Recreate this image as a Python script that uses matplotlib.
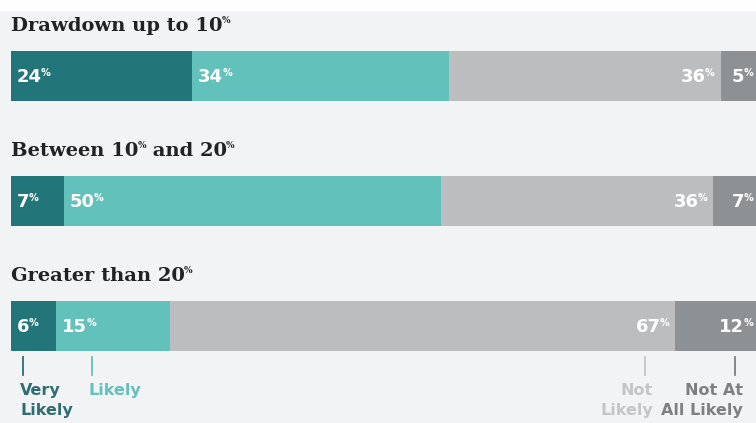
import matplotlib
matplotlib.use("Agg")
import matplotlib.pyplot as plt
from matplotlib.transforms import IdentityTransform
from matplotlib.patches import Rectangle

# data
titles = [["Drawdown up to 10", "%"],
          ["Between 10", "%", " and 20", "%"],
          ["Greater than 20", "%"]]
very_likely = [24, 7, 6]
likely = [34, 50, 15]
not_likely = [36, 36, 67]
not_at_all = [5, 7, 12]
legend_labels = ["Very\nLikely", "Likely", "Not\nLikely", "Not At\nAll Likely"]

colors = ["#22767a", "#63c1bb", "#bcbdbe", "#8e9193"]
legend_colors = ["#2f6e70", "#63c1bb", "#c4c5c7", "#7d8083"]
bg = "#f2f3f5"

W, H = 756, 423
fig = plt.figure(figsize=(W / 100, H / 100), dpi=100)
fig.patch.set_facecolor(bg)
fig.patches.append(Rectangle((0, 1 - 10 / H), 1, 10 / H, transform=fig.transFigure,
                             color="white", zorder=0))

# axes mapped so that 0..100 % spans pixels 11..766
x0, x100 = 11, 766
ax = fig.add_axes([x0 / W, 0, (x100 - x0) / W, 1])
ax.set_xlim(0, 100)
ax.set_ylim(H, 0)
ax.axis("off")
px = 100 / (x100 - x0)  # one pixel in data units

renderer = fig.canvas.get_renderer()
ident = IdentityTransform()


def runs(x, base, parts, ha="left", **kw):
    """Draw text pieces in pixel coords (from top-left); every second piece is a small superscript."""
    size = kw.pop("size")
    small = kw.pop("small")
    texts = []
    for j, p in enumerate(parts):
        sup = j % 2 == 1
        t = fig.text(0, 0, p, fontsize=small if sup else size, transform=ident,
                     va="top" if sup else "baseline", ha="left", **kw)
        texts.append((t, sup))
    widths = [t.get_window_extent(renderer).width for t, _ in texts]
    gap = -1
    total = sum(widths) + sum(gap for _, s in texts if s)
    cx = x - total if ha == "right" else x
    cap = 0.72 * size * 100 / 72
    for (t, sup), w in zip(texts, widths):
        if sup:
            cx += gap
            t.set_position((cx, H - (base - cap) + 1))
        else:
            t.set_position((cx, H - base))
        cx += w


bar_y = [76, 201, 326]
bar_h = 50
series = [very_likely, likely, not_likely, not_at_all]

for i, y in enumerate(bar_y):
    left = 0
    for s, vals in enumerate(series):
        v = vals[i]
        ax.barh(y, v, left=left, height=bar_h, color=colors[s], edgecolor="none")
        parts = [str(v), "%"]
        if s < 2:
            xp = x0 + (left) / px + 6
            runs(xp, y + 6, parts, "left", size=13, small=7, color="white",
                 fontweight="bold", family="DejaVu Sans")
        elif s == 2:
            xp = x0 + (left + v) / px - 6
            runs(xp, y + 6, parts, "right", size=13, small=7, color="white",
                 fontweight="bold", family="DejaVu Sans")
        else:
            runs(W - 3, y + 6, parts, "right", size=13, small=7, color="white",
                 fontweight="bold", family="DejaVu Sans")
        left += v

# titles
title_base = [31, 156, 281]
for parts, b in zip(titles, title_base):
    runs(11, b, parts, "left", size=14, small=6.5, color="#222222",
         fontweight="bold", family="DejaVu Serif")

# legend ticks below last bar
tick_x = [23, 92, 645, 735]
ha_list = ["left", "left", "right", "right"]
text_dx = [-3, -4, 8, 8]
for k in range(4):
    xt = (tick_x[k] - x0) * px
    ax.plot([xt, xt], [357, 375], color=legend_colors[k], lw=1.3)
    ax.text(xt + text_dx[k] * px, 383, legend_labels[k], color=legend_colors[k],
            fontsize=11.5, fontweight="bold", family="DejaVu Sans", ha=ha_list[k],
            va="top", linespacing=1.45, multialignment=ha_list[k])

fig.savefig("out.png", dpi=100, facecolor=bg)
